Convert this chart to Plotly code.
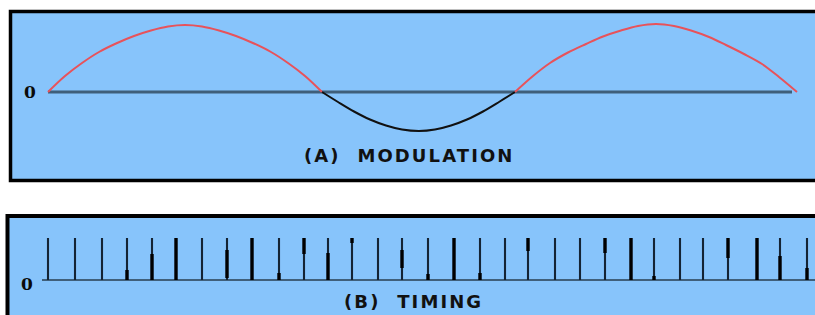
import plotly.graph_objects as go

W, H = 815, 315

# ---- Data (arbitrary time units, amplitude units) ----
# Modulating signal: positive humps (red) and the negative lobe (black)
hump1_t = [0, 17, 34, 51, 68, 86, 103, 120, 137, 154, 171, 188, 206, 223, 240, 257, 274]
hump1_v = [0, 16, 29, 40, 48.5, 56, 61.5, 65.5, 67, 65.5, 61.5, 56, 48.5, 40, 29, 16, 0]
trough_t = [274, 290, 306, 322, 338, 354, 371, 387, 403, 419, 435, 451, 467]
trough_v = [0, -10, -19.5, -27.5, -33.5, -37.5, -39, -37.5, -33.5, -27.5, -19.5, -10, 0]
hump2_t = [467, 485, 502, 520, 538, 555, 573, 590, 608, 626, 643, 661, 678, 696, 714, 731, 749]
hump2_v = [0, 16, 29, 39.5, 48, 55.5, 61.5, 66, 68, 66, 61.5, 55, 47, 38, 28, 15, 0]

# Timing pulses: positions, full height, and the darker/thicker segment of each
pulse_t = [0, 27, 54, 79, 104, 128, 154, 179, 204, 231, 256, 280, 304, 330, 354,
           380, 406, 432, 457, 480, 507, 532, 557, 583, 606, 632, 655, 680, 709, 732, 759]
pulse_h = 42
thick_lo = [None, None, None, 0, 0, 0, None, 2, 0, 0, 26, 0, 37, None, 12,
            0, 0, 0, None, 29, None, None, 27, 0, 0, None, None, 22, 0, 0, 0]
thick_hi = [None, None, None, 10, 26, 42, None, 30, 42, 7, 42, 27, 42, None, 30,
            6, 42, 7, None, 42, None, None, 42, 42, 4, None, None, 42, 42, 24, 12]

BLUE = "#87c4fb"
RED = "#e8525a"
SLATE = "#3f5f7a"

fig = go.Figure()

# modulation wave
for tt, vv, col in [(hump1_t, hump1_v, RED), (trough_t, trough_v, "#111111"), (hump2_t, hump2_v, RED)]:
    fig.add_trace(go.Scatter(x=tt, y=vv, mode="lines",
                             line=dict(color=col, width=2, shape="spline", smoothing=1),
                             xaxis="x", yaxis="y", hoverinfo="skip"))

# timing pulses (thin full-height lines)
px, py = [], []
for t in pulse_t:
    px += [t, t, None]
    py += [0, pulse_h, None]
fig.add_trace(go.Scatter(x=px, y=py, mode="lines", line=dict(color="#142434", width=2.1),
                         xaxis="x", yaxis="y2", hoverinfo="skip"))
# thicker segments
kx, ky = [], []
for t, lo, hi in zip(pulse_t, thick_lo, thick_hi):
    if lo is None:
        continue
    kx += [t, t, None]
    ky += [lo, hi, None]
fig.add_trace(go.Scatter(x=kx, y=ky, mode="lines", line=dict(color="#000000", width=3.4),
                         xaxis="x", yaxis="y2", hoverinfo="skip"))


def fx(p):
    return p / W


def fy(p):
    return 1 - p / H


shapes = [
    # panel A
    dict(type="rect", xref="paper", yref="paper", x0=fx(10.5), x1=fx(830), y0=fy(180.5), y1=fy(11.5),
         fillcolor=BLUE, line=dict(color="#000000", width=3.5), layer="below"),
    # panel B
    dict(type="rect", xref="paper", yref="paper", x0=fx(7.5), x1=fx(830), y0=fy(330), y1=fy(216),
         fillcolor=BLUE, line=dict(color="#000000", width=4), layer="below"),
    # zero line A
    dict(type="line", xref="x", yref="y", x0=0, x1=744, y0=0, y1=0,
         line=dict(color=SLATE, width=3), layer="below"),
    # zero line B
    dict(type="line", xref="x", yref="y2", x0=-6, x1=800, y0=0, y1=0,
         line=dict(color=SLATE, width=2), layer="below"),
]

LBL_FONT = dict(family="DejaVu Sans", size=18, color="#111111", weight="bold")
ZERO_FONT = dict(family="DejaVu Serif", size=17, color="#0a0a0a", weight="bold")
annotations = [
    dict(text="0", x=fx(29.5), y=fy(92), xref="paper", yref="paper", showarrow=False,
         xanchor="center", yanchor="middle", font=ZERO_FONT),
    dict(text="0", x=fx(27), y=fy(284), xref="paper", yref="paper", showarrow=False,
         xanchor="center", yanchor="middle", font=ZERO_FONT),
    dict(text='<span style="letter-spacing:2.1px">(A)  MODULATION</span>', x=fx(409), y=fy(155),
         xref="paper", yref="paper", showarrow=False, xanchor="center", yanchor="middle",
         font=LBL_FONT),
    dict(text='<span style="letter-spacing:2.1px">(B)  TIMING</span>', x=fx(414), y=fy(301),
         xref="paper", yref="paper", showarrow=False, xanchor="center", yanchor="middle",
         font=LBL_FONT),
]

fig.update_layout(
    width=W, height=H,
    margin=dict(l=0, r=0, t=0, b=0),
    paper_bgcolor="white",
    plot_bgcolor="rgba(0,0,0,0)",
    showlegend=False,
    xaxis=dict(domain=[0, 1], range=[-48, 767], visible=False, fixedrange=True),
    yaxis=dict(domain=[0, 1], range=[-223, 92], visible=False, fixedrange=True),
    yaxis2=dict(domain=[0, 1], range=[-35, 280], visible=False, overlaying="y", fixedrange=True),
    shapes=shapes,
    annotations=annotations,
)

fig.write_html(
    "out.html",
    config={"displayModeBar": False},
    post_script="document.body.style.margin='0';document.body.style.overflow='hidden';",
)
